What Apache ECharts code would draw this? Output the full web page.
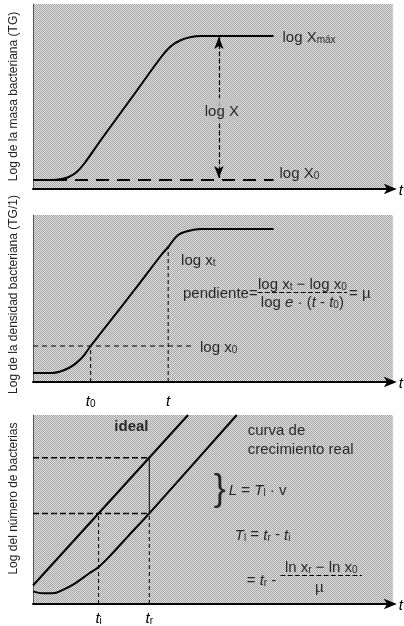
<!DOCTYPE html>
<html><head><meta charset="utf-8">
<script src="https://cdn.jsdelivr.net/npm/echarts@6/dist/echarts.min.js"></script>
<style>html,body{margin:0;padding:0;background:#fff}#c{width:404px;height:626px}</style>
</head><body><div id="c"></div>
<script>
// ---- Panel 1: Log de la masa bacteriana (TG) ----
const massX = [0, 19, 29, 36, 44, 52, 69, 102, 129, 139, 149, 159, 169, 242];
const massY = [9, 9, 10, 12, 17, 26, 50, 95, 132, 143, 149, 152, 153, 153];
const massArrowX = 187;              // position of the "log X" arrow along t
// ---- Panel 2: Log de la densidad bacteriana (TG/1) ----
const densX = [0, 19, 36, 49, 58, 69, 102, 129, 136, 146, 156, 169, 242];
const densY = [9, 9, 14, 24, 36, 50, 92, 127, 135, 147, 151, 153, 153];
const densT0 = 58, densT = 136;       // t0 and t
const densLogX0 = 36, densLogXt = 135;
const densGuideEnd = 162;
// ---- Panel 3: Log del número de bacterias ----
const idealX = [0, 156];
const idealY = [19, 194];
const realX = [0, 10, 20, 29, 42, 56, 66, 79, 96, 117, 205];
const realY = [13, 11, 11, 14, 21, 31, 38, 51, 70, 93, 194];
const tI = 66, tR = 117;              // ti and tr
const levelLow = 93, levelHigh = 150;

const W = 362, H1 = 185, H2 = 167, H3 = 194;
const GRAY = '#c2c2c2';
const FONT = "'Liberation Sans', Arial, Helvetica, sans-serif";
const INK = '#000';
const pair = (xs, ys) => xs.map((x, i) => [x, ys[i]]);

// fine halftone-like texture for the plot backgrounds
const tile = document.createElement('canvas');
tile.width = 2; tile.height = 2;
(function () {
  const c = tile.getContext('2d');
  c.fillStyle = '#dcdcdc'; c.fillRect(0, 0, 2, 2);
  c.fillStyle = '#a8a8a8'; c.fillRect(0, 0, 1, 1); c.fillRect(1, 1, 1, 1);
})();
const BG = {image: tile, repeat: 'repeat'};

const rich = {
  n: {fontSize: 15, fontFamily: FONT, color: INK, lineHeight: 18, verticalAlign: 'bottom'},
  i: {fontSize: 15, fontFamily: FONT, color: INK, fontStyle: 'italic', lineHeight: 18, verticalAlign: 'bottom'},
  s: {fontSize: 10, fontFamily: FONT, color: INK, lineHeight: 10, verticalAlign: 'bottom'},
  b: {fontSize: 15, fontFamily: FONT, color: INK, fontWeight: 'bold', lineHeight: 18, verticalAlign: 'bottom'}
};

function xAx(i, opts) {
  return Object.assign({
    type: 'value', gridIndex: i, min: 0, max: W,
    axisLine: {show: true, symbol: ['none', 'arrow'], symbolSize: [8, 13], symbolOffset: [0, 4],
      lineStyle: {color: '#000', width: 2}},
    axisTick: {show: false}, splitLine: {show: false},
    axisLabel: {show: false},
    name: '{i|t}', nameLocation: 'end', nameGap: 6,
    nameTextStyle: {rich: rich, verticalAlign: 'middle'}
  }, opts || {});
}
function yAx(i, h, name, pad) {
  return {
    type: 'value', gridIndex: i, min: 0, max: h,
    axisLine: {show: true, lineStyle: {color: '#555', width: 1}},
    axisTick: {show: false}, splitLine: {show: false}, axisLabel: {show: false},
    name: name, nameLocation: 'middle', nameGap: 13,
    nameTextStyle: {fontSize: 12, fontFamily: FONT, color: '#222', padding: pad || 0}
  };
}
function lbl(x, y, text, align, extra) {
  return {value: [x, y], label: Object.assign({show: true, position: 'inside', formatter: text,
    align: align || 'left', verticalAlign: 'middle', rich: rich}, extra || {})};
}
function textSeries(i, items) {
  return {type: 'scatter', xAxisIndex: i, yAxisIndex: i, symbolSize: 0, silent: true, z: 10,
    clip: false, data: items};
}
const solid = (w) => ({color: '#000', width: w});
const dashed = (w, d) => ({color: '#000', width: w, type: d});

const massEnd = massX[massX.length - 1];
const massMax = massY[massY.length - 1];
const massMin = massY[0];

const option = {
  animation: false,
  backgroundColor: '#fff',
  grid: [
    {left: 31, top: 4, width: W, height: H1, show: true, backgroundColor: BG, borderWidth: 0},
    {left: 31, top: 215, width: W, height: H2, show: true, backgroundColor: BG, borderWidth: 0},
    {left: 31, top: 415, width: W, height: H3, show: true, backgroundColor: BG, borderWidth: 0}
  ],
  xAxis: [
    xAx(0),
    xAx(1, {axisLabel: {show: true, customValues: [densT0, densT], margin: 9,
      formatter: v => v === densT0 ? '{i|t}{s|0}' : '{i|t}', rich: rich}}),
    xAx(2, {axisLabel: {show: true, customValues: [tI, tR], margin: 4,
      formatter: v => v === tI ? '{i|t}{s|i}' : '{i|t}{s|r}', rich: rich}})
  ],
  yAxis: [
    yAx(0, H1, 'Log de la masa bacteriana (TG)'),
    yAx(1, H2, 'Log de la densidad bacteriana (TG/1)', [0, 0, 0, 8]),
    yAx(2, H3, 'Log del número de bacterias', [0, 0, 0, 22])
  ],
  series: [
    // Panel 1
    {type: 'line', xAxisIndex: 0, yAxisIndex: 0, data: pair(massX, massY), smooth: 0.35,
      showSymbol: false, lineStyle: solid(2), z: 3},
    {type: 'line', xAxisIndex: 0, yAxisIndex: 0, data: [[0, massMin], [massEnd, massMin]],
      showSymbol: false, lineStyle: dashed(2, [13, 8]), z: 2,
      markLine: {silent: true, symbol: ['arrow', 'arrow'], symbolSize: [7, 12], label: {show: false},
        lineStyle: solid(1.2),
        data: [[{coord: [massArrowX, massMax - 1]}, {coord: [massArrowX, massMin + 2]}]]}},
    textSeries(0, [
      lbl(massEnd + 9, massMax, '{n|log X}{s|máx}'),
      lbl(massArrowX + 3, 79, '{n|log X}', 'center', {backgroundColor: GRAY, padding: [3, 1]}),
      lbl(massEnd + 6, massMin + 8, '{n|log X}{s|0}')
    ]),
    // Panel 2
    {type: 'line', xAxisIndex: 1, yAxisIndex: 1, data: pair(densX, densY), smooth: 0.35,
      showSymbol: false, lineStyle: solid(2), z: 3},
    {type: 'line', xAxisIndex: 1, yAxisIndex: 1, data: [[0, densLogX0], [densGuideEnd, densLogX0]],
      showSymbol: false, lineStyle: dashed(1, [5, 4]), z: 2},
    {type: 'line', xAxisIndex: 1, yAxisIndex: 1, data: [[densT0, 0], [densT0, densLogX0]],
      showSymbol: false, lineStyle: dashed(1, [4, 3]), z: 2},
    {type: 'line', xAxisIndex: 1, yAxisIndex: 1, data: [[densT, 0], [densT, densLogXt]],
      showSymbol: false, lineStyle: dashed(1, [4, 3]), z: 2,
      markLine: {silent: true, symbol: ['none', 'none'], label: {show: false}, lineStyle: solid(1.2),
        data: [[{coord: [226, 90]}, {coord: [316, 90]}]]}},
    textSeries(1, [
      lbl(149, 123, '{n|log x}{s|t}'),
      lbl(226, 90, '{n|pendiente=}', 'right'),
      lbl(271, 99, '{n|log x}{s|t}{n| − log x}{s|0}', 'center'),
      lbl(271, 81, '{n|log }{i|e}{n| · (}{i|t}{n| - }{i|t}{s|0}{n|)}', 'center'),
      lbl(318, 90, '{n|= µ}'),
      lbl(168, densLogX0, '{n|log x}{s|0}')
    ]),
    // Panel 3
    {type: 'line', xAxisIndex: 2, yAxisIndex: 2, data: pair(idealX, idealY),
      showSymbol: false, lineStyle: solid(2), z: 3},
    {type: 'line', xAxisIndex: 2, yAxisIndex: 2, data: pair(realX, realY), smooth: 0.35,
      showSymbol: false, lineStyle: solid(2), z: 3},
    {type: 'line', xAxisIndex: 2, yAxisIndex: 2, data: [[0, levelHigh], [tR, levelHigh]],
      showSymbol: false, lineStyle: dashed(1.5, [6, 3]), z: 2},
    {type: 'line', xAxisIndex: 2, yAxisIndex: 2, data: [[0, levelLow], [tR, levelLow]],
      showSymbol: false, lineStyle: dashed(1.5, [6, 3]), z: 2},
    {type: 'line', xAxisIndex: 2, yAxisIndex: 2, data: [[tR, levelLow], [tR, levelHigh]],
      showSymbol: false, lineStyle: solid(1), z: 2},
    {type: 'line', xAxisIndex: 2, yAxisIndex: 2, data: [[tI, 0], [tI, levelLow]],
      showSymbol: false, lineStyle: dashed(1, [4, 3]), z: 2},
    {type: 'line', xAxisIndex: 2, yAxisIndex: 2, data: [[tR, 0], [tR, levelLow]],
      showSymbol: false, lineStyle: dashed(1, [4, 3]), z: 2,
      markLine: {silent: true, symbol: ['none', 'none'], label: {show: false}, lineStyle: solid(1.2),
        data: [[{coord: [249, 29]}, {coord: [331, 29]}]]}},
    textSeries(2, [
      lbl(99, 183, '{b|ideal}', 'center'),
      lbl(216, 179, '{n|curva de}'),
      lbl(216, 160, '{n|crecimiento real}'),
      {value: [188, 117], label: {show: true, position: 'inside', formatter: '}', align: 'center',
        verticalAlign: 'middle', fontSize: 36, fontFamily: FONT, color: INK}},
      lbl(197, 118, '{i|L}{n| = }{i|T}{s|l}{n| · v}'),
      lbl(203, 72, '{i|T}{s|l}{n| = }{i|t}{s|r}{n| - }{i|t}{s|i}'),
      lbl(215, 25, '{n|= }{i|t}{s|r}{n| - }'),
      lbl(290, 39, '{n|ln x}{s|r}{n| − ln x}{s|0}', 'center'),
      lbl(288, 18, '{n|µ}', 'center')
    ])
  ]
};
const chart = echarts.init(document.getElementById('c'), null, {renderer: 'canvas'});
chart.setOption(option);
</script>
</body></html>
